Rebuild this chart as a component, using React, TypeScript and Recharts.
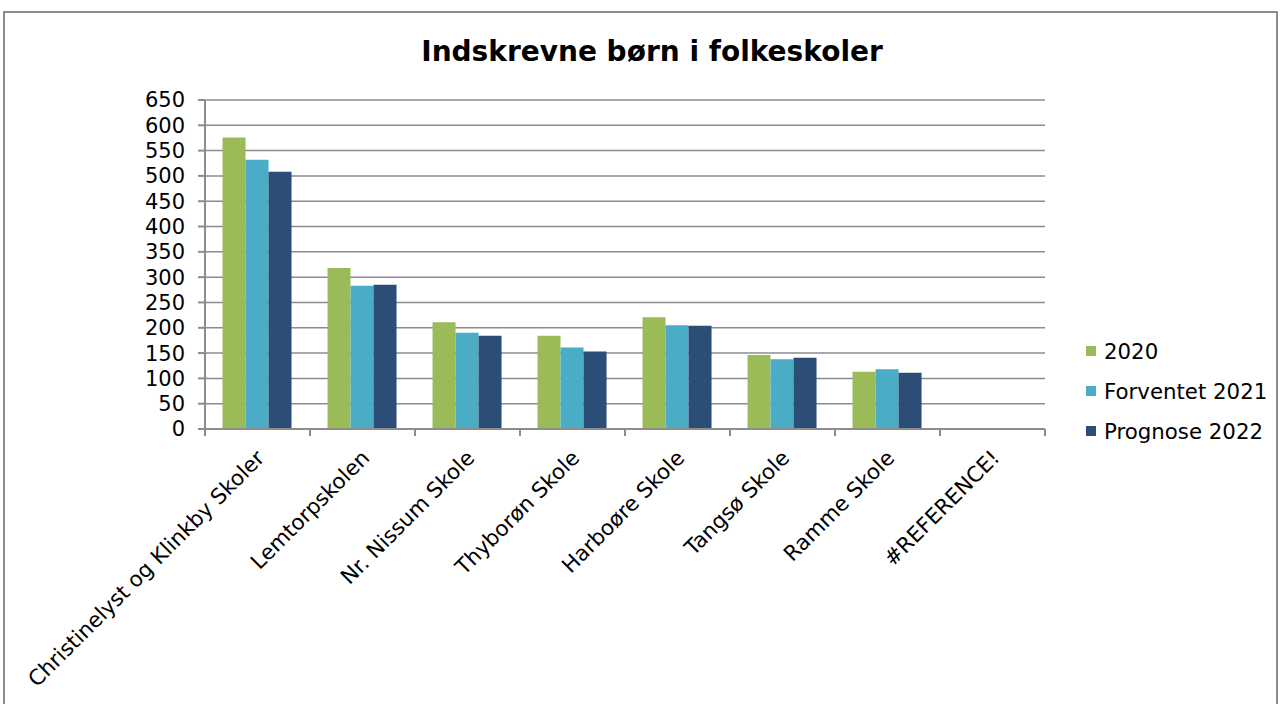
import React from "react";
import { BarChart, Bar, XAxis, YAxis, CartesianGrid } from "recharts";

const categories = [
  "Christinelyst og Klinkby Skoler",
  "Lemtorpskolen",
  "Nr. Nissum Skole",
  "Thyborøn Skole",
  "Harboøre Skole",
  "Tangsø Skole",
  "Ramme Skole",
  "#REFERENCE!",
];
const values2020: (number | null)[] = [576, 318, 211, 184, 221, 146, 113, null];
const values2021: (number | null)[] = [532, 283, 190, 161, 205, 138, 118, null];
const values2022: (number | null)[] = [508, 285, 184, 153, 204, 141, 111, null];
const seriesNames = ["2020", "Forventet 2021", "Prognose 2022"];
const seriesColors = ["#9BBB59", "#4BACC6", "#2C4D75"];
const yTicks = [0, 50, 100, 150, 200, 250, 300, 350, 400, 450, 500, 550, 600, 650];
const boundaryTicks = [0, 1, 2, 3, 4, 5, 6, 7, 8];

const data = categories.map((c, i) => ({
  name: c,
  idx: i + 0.5,
  s0: values2020[i],
  s1: values2021[i],
  s2: values2022[i],
}));

const FONT = "'DejaVu Sans', Verdana, sans-serif";

const XTick = (props: any) => {
  const { x, y, payload } = props;
  return (
    <g transform={`translate(${x + 3},${y + 16})`}>
      <text
        x={0}
        y={0}
        dy="0.35em"
        textAnchor="end"
        transform="rotate(-45)"
        fontSize={21.3}
        fontFamily={FONT}
        fill="#000"
      >
        {payload.value}
      </text>
    </g>
  );
};

const EmptyTick = () => <g />;

export default function App() {
  return (
    <div style={{ position: "absolute", left: 0, top: 0, width: 1282, height: 704, background: "#fff", overflow: "hidden" }}>
      <div
        style={{
          position: "absolute",
          left: 3,
          top: 11,
          width: 1275,
          height: 760,
          border: "2px solid #8c8c8c",
          boxSizing: "border-box",
        }}
      />
      <div
        style={{
          position: "absolute",
          left: 0,
          top: 35,
          width: 1304,
          textAlign: "center",
          fontFamily: FONT,
          fontWeight: "bold",
          fontSize: 28,
          color: "#000",
        }}
      >
        Indskrevne børn i folkeskoler
      </div>
      <div style={{ position: "absolute", left: 0, top: 0 }}>
        <BarChart
          width={1282}
          height={704}
          data={data}
          margin={{ top: 100, right: 237, bottom: 273, left: 0 }}
          barCategoryGap="16.7%"
          barGap={0}
        >
          <CartesianGrid vertical={false} stroke="#8c8c8c" strokeWidth={1.5} />
          <XAxis
            xAxisId="b"
            dataKey="idx"
            type="number"
            domain={[0, 8]}
            ticks={boundaryTicks}
            interval={0}
            tickSize={7}
            axisLine={{ stroke: "#8c8c8c", strokeWidth: 2 }}
            tickLine={{ stroke: "#8c8c8c", strokeWidth: 2 }}
            tick={<EmptyTick />}
            height={1}
          />
          <XAxis
            dataKey="name"
            xAxisId="cat"
            interval={0}
            tickLine={false}
            axisLine={false}
            tick={<XTick />}
            height={1}
          />
          <YAxis
            domain={[0, 650]}
            ticks={yTicks}
            interval={0}
            tickSize={7}
            tickMargin={13}
            axisLine={{ stroke: "#8c8c8c", strokeWidth: 2 }}
            tickLine={{ stroke: "#8c8c8c", strokeWidth: 2 }}
            tick={{ fontSize: 21, fontFamily: FONT, fill: "#000" }}
            width={205}
          />
          <Bar xAxisId="cat" dataKey="s0" name={seriesNames[0]} fill={seriesColors[0]} isAnimationActive={false} />
          <Bar xAxisId="cat" dataKey="s1" name={seriesNames[1]} fill={seriesColors[1]} isAnimationActive={false} />
          <Bar xAxisId="cat" dataKey="s2" name={seriesNames[2]} fill={seriesColors[2]} isAnimationActive={false} />
        </BarChart>
      </div>
      <div
        style={{
          position: "absolute",
          left: 1086,
          top: 331,
          fontFamily: FONT,
          fontSize: 21.3,
          color: "#000",
        }}
      >
        {seriesNames.map((n, i) => (
          <div key={n} style={{ display: "flex", alignItems: "center", height: 40 }}>
            <span
              style={{
                display: "inline-block",
                width: 10,
                height: 10,
                background: seriesColors[i],
                marginRight: 8,
              }}
            />
            <span>{n}</span>
          </div>
        ))}
      </div>
    </div>
  );
}
